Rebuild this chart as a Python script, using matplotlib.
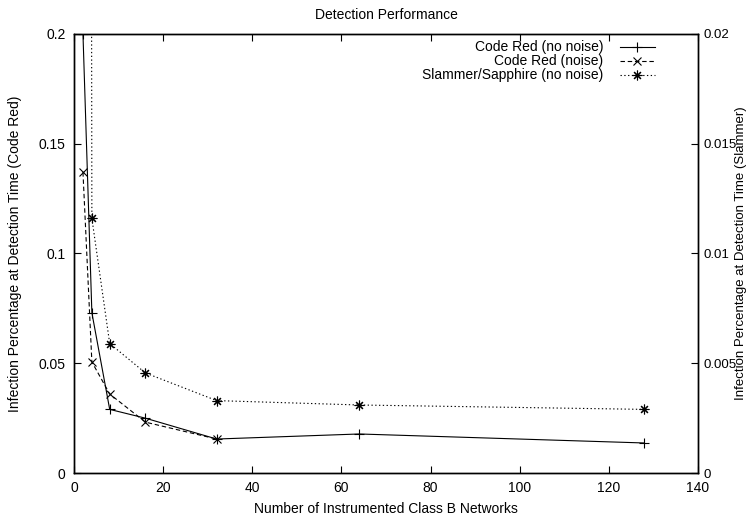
import numpy as np
import matplotlib
matplotlib.use("Agg")
import matplotlib.pyplot as plt
from matplotlib.ticker import FormatStrFormatter, MultipleLocator

plt.rcParams['font.family'] = ['Liberation Sans', 'DejaVu Sans']
plt.rcParams['font.size'] = 10

# data
networks = [2, 4, 8, 16, 32, 64, 128]
codered_clean = [0.2, 0.073, 0.029, 0.025, 0.0155, 0.0178, 0.0137]

networks_noise = [2, 4, 8, 16, 32]
codered_noise = [0.137, 0.0506, 0.036, 0.0232, 0.0155]

slammer = [0.3, 0.0116, 0.0059, 0.00456, 0.0033, 0.0031, 0.0029]

fig = plt.figure(figsize=(7.48, 5.21), dpi=100)
ax = fig.add_axes([0.099, 0.092, 0.834, 0.843])
ax2 = ax.twinx()

l1, = ax.plot(networks, codered_clean, color='black', lw=0.8, ls='-',
              marker='+', ms=7, mew=0.8, label='Code Red (no noise)')
l2, = ax.plot(networks_noise, codered_noise, color='black', lw=0.8,
              ls=(0, (4, 2.5)), marker='x', ms=6, mew=0.8,
              label='Code Red (noise)')
l3, = ax2.plot(networks, slammer, color='black', lw=0.8, ls=(0, (1.2, 2.2)),
               marker=(8, 2, 0), ms=7, mew=0.8,
               label='Slammer/Sapphire (no noise)')

ax.set_xlim(0, 140)
ax.set_ylim(0, 0.2)
ax2.set_ylim(0, 0.02)
ax.xaxis.set_major_locator(MultipleLocator(20))
ax.yaxis.set_major_locator(MultipleLocator(0.05))
ax2.yaxis.set_major_locator(MultipleLocator(0.005))
ax.yaxis.set_major_formatter(FormatStrFormatter('%g'))
ax2.yaxis.set_major_formatter(FormatStrFormatter('%g'))

ax.tick_params(axis='x', direction='in', top=True, length=5, width=0.8, pad=6)
ax.tick_params(axis='y', direction='in', length=5, width=0.8, pad=6)
ax2.tick_params(axis='y', direction='in', length=5, width=0.8, pad=4,
                labelsize=9.5)
for a in (ax, ax2):
    for s in a.spines.values():
        s.set_linewidth(1.0)

ax.set_title('Detection Performance', fontsize=10, pad=11)
ax.set_xlabel('Number of Instrumented Class B Networks', labelpad=5)
ax.set_ylabel('Infection Percentage at Detection Time (Code Red)')
ax2.set_ylabel('Infection Percentage at Detection Time (Slammer)', fontsize=9.5)
# place the y labels where the reference has them
ax.yaxis.label.set_va('center')
ax2.yaxis.label.set_va('center')
ax.yaxis.set_label_coords(-0.095, 0.5)
ax2.yaxis.set_label_coords(1.069, 0.5)

leg = ax2.legend(handles=[l1, l2, l3], loc='upper right', frameon=False,
                 markerfirst=False, handlelength=2.5, labelspacing=0,
                 handletextpad=1.2, borderaxespad=0, borderpad=0,
                 bbox_to_anchor=(0.931, 0.985), fontsize=10)

fig.savefig('out.png', dpi=100)
